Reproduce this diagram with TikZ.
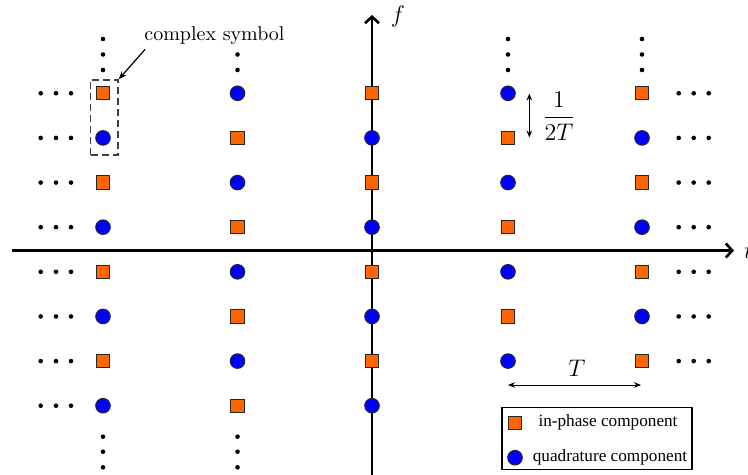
\documentclass[tikz,border=0pt]{standalone}
\usepackage{fontspec}
\newfontfamily\legfont{Liberation Serif}
\usetikzlibrary{arrows.meta}
\definecolor{inphase}{HTML}{FF6600}
\definecolor{quadr}{HTML}{0000FF}
\begin{document}
\begin{tikzpicture}[x=0.5pt,y=-0.5pt,
  sq/.style={draw=black!85, fill=inphase, minimum size=6.7pt, inner sep=0pt, line width=0.5pt},
  ci/.style={circle, draw=black!85, fill=quadr, minimum size=7.3pt, inner sep=0pt, line width=0.5pt},
  axisline/.style={line width=1.3pt, -{Straight Barb[length=3.2pt,width=7pt]}},
  dimarrow/.style={line width=0.5pt, {Stealth[length=3.5pt,width=2.8pt]}-{Stealth[length=3.5pt,width=2.8pt]}},
  mathlbl/.style={font=\fontsize{11.5}{13}\selectfont, inner sep=0pt},
  legtext/.style={font=\legfont\fontsize{8.6}{10}\selectfont, inner sep=0pt},
  dotr/.style={fill=black}]
\useasboundingbox (0,0) rectangle (748,475);
\clip (0,0) rectangle (748,475);

% axes
\coordinate (tL) at (12,250.5);
\coordinate (tR) at (734,250.5);
\coordinate (fB) at (372,480);
\coordinate (fT) at (372,15);
\draw[axisline] (tL) -- (tR);
\draw[axisline] (fB) -- (fT);
\node[mathlbl, anchor=west] (tlab) at (744,251) {$t$};
\node[mathlbl] (flab) at (398,17) {$f$};

% lattice of symbols
\foreach \c/\x in {0/103,1/237.5,2/372,3/508,4/642}{
  \foreach \r in {0,...,7}{
    \pgfmathsetmacro\yy{93.3+44.63*\r}
    \pgfmathtruncatemacro\pp{mod(\c+\r,2)}
    \pgfmathtruncatemacro\noshow{and(\c>2,\r==7)}
    \ifnum\noshow=0
      \ifnum\pp=0
        \node[sq] (n\c\r) at (\x,\yy) {};
      \else
        \node[ci] (n\c\r) at (\x,\yy) {};
      \fi
    \fi
  }
}

% horizontal ellipses
\foreach \r in {0,...,7}{
  \pgfmathsetmacro\yy{93.3+44.63*\r}
  \foreach \x in {40.7,56,71}{\fill[dotr] (\x,\yy) circle (1.15pt);}
}
\foreach \r in {0,...,6}{
  \pgfmathsetmacro\yy{93.3+44.63*\r}
  \foreach \x in {678.7,693.7,708.7}{\fill[dotr] (\x,\yy) circle (1.15pt);}
}
% vertical ellipses
\foreach \x in {103,237.5,508,642}{
  \foreach \yy in {39,54.5,70}{\fill[dotr] (\x,\yy) circle (1.15pt);}
}
\foreach \x in {103,237.5}{
  \foreach \yy in {436.7,451.7,467.3}{\fill[dotr] (\x,\yy) circle (1.15pt);}
}

% complex symbol box and label
\node[draw=black!75, line width=0.7pt, dash pattern=on 3.5pt off 2pt,
      minimum width=13.7pt, minimum height=37.5pt, inner sep=0pt] (cbox) at (104.3,117.5) {};
\node[fill=white, inner sep=1pt, font=\fontsize{10}{12}\selectfont] (clab) at (214.5,36) {complex symbol};
\draw[line width=0.6pt, -{Stealth[length=4pt,width=3pt]}] ([xshift=1.5pt,yshift=-1pt]clab.south west) -- (cbox.north east);

% 1/(2T) spacing
\coordinate (fa) at (529.3,93.5);
\coordinate (fb) at (529.3,137.5);
\draw[dimarrow] (fa) -- (fb);
\node[mathlbl] (flbl) at (559,116) {$\displaystyle\frac{1}{2T}$};

% T spacing
\coordinate (ta) at (508,385);
\coordinate (tb) at (641,385);
\draw[dimarrow] (ta) -- (tb);
\node[mathlbl] (Tlbl) at (577,368) {$T$};

% legend
\node[draw=black, line width=0.6pt, minimum width=95pt, minimum height=30.7pt, inner sep=0pt, fill=white] (leg) at (597,438.5) {};
\node[sq] (lsq) at (515,422.7) {};
\node[ci] (lci) at (515,457.7) {};
\node[legtext] (lt1) at (608,422) {in-phase component};
\node[legtext] (lt2) at (610,457) {quadrature component};
\end{tikzpicture}
\end{document}
